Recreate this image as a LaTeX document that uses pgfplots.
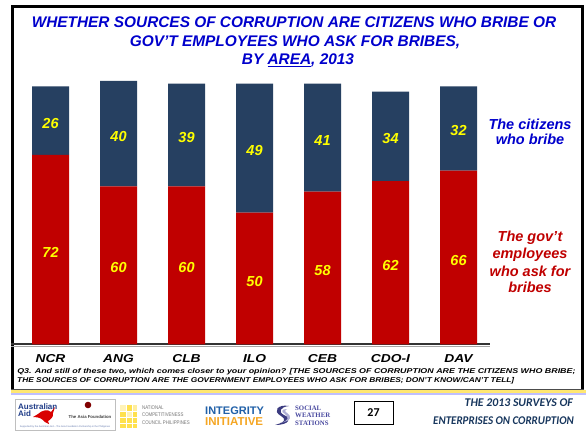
\documentclass[border=0pt]{standalone}
\usepackage{pgfplots}
\pgfplotsset{compat=1.18}
\usepackage{fontspec}
\setmainfont{Liberation Sans}
\newfontfamily\carlito{Carlito}
\newfontfamily\serifx{Liberation Serif}
\definecolor{barred}{HTML}{C00000}
\definecolor{barnavy}{HTML}{264061}
\definecolor{titleblue}{HTML}{0000CC}
\definecolor{footblue}{HTML}{17365D}
\definecolor{labyellow}{HTML}{FFFF00}
\definecolor{ausblue}{HTML}{1F3C88}
\definecolor{intblue}{HTML}{2060A8}
\definecolor{intorange}{HTML}{F5A623}
\definecolor{swsblue}{HTML}{4A4AA0}
\definecolor{nccyellow}{HTML}{FFE14D}
\begin{document}
\begin{tikzpicture}[x=1pt,y=1pt]
\path[use as bounding box, fill=white] (0,0) rectangle (586,431);
% frame
\draw[line width=3pt, black] (12.5,40) -- (12.5,424.5) -- (582,424.5) -- (582,40);
\draw[line width=0.8pt, black!70] (11,42) -- (583.5,42);
\draw[line width=2.5pt, color=nccyellow!80!white] (11,39.5) -- (586,39.5);
\draw[line width=2pt, color=blue!25!white] (11,37) -- (586,37);
% title
\node[anchor=base, text=titleblue, font=\fontsize{15.4}{18}\selectfont\bfseries\itshape] at (294,403.7) {WHETHER SOURCES OF CORRUPTION ARE CITIZENS WHO BRIBE OR};
\node[anchor=base, text=titleblue, font=\fontsize{15.4}{18}\selectfont\bfseries\itshape] at (295,384.3) {GOV’T EMPLOYEES WHO ASK FOR BRIBES,};
\node[anchor=base, text=titleblue, font=\fontsize{15.4}{18}\selectfont\bfseries\itshape] at (298,366) {BY \underline{AREA}, 2013};
% chart
\begin{axis}[at={(11pt,86.5pt)}, anchor=south west, scale only axis,
  width=479pt, height=263.5pt,
  xmin=-0.581, xmax=6.463, ymin=0, ymax=100, clip=false,
  ybar stacked, bar width=37pt,
  axis y line=none, axis x line*=bottom,
  x axis line style={-, line width=2pt, color=black!80},
  xtick={0,...,6}, xticklabels={NCR,ANG,CLB,ILO,CEB,CDO-I,DAV},
  major tick length=0pt, ytick=\empty,
  xticklabel style={font=\fontsize{11.5}{13}\selectfont\bfseries\itshape, anchor=base, yshift=-17.8pt, xscale=1.2},
  /pgf/number format/assume math mode=true,
  nodes near coords, point meta=rawy,
  every node near coord/.style={anchor=center, yshift=-2.5pt, text=labyellow, font=\fontsize{14.5}{16}\selectfont\bfseries\itshape},
]
\addplot[fill=barred, draw=none] coordinates {(0,72)(1,60)(2,60)(3,50)(4,58)(5,62)(6,66)};
\addplot[fill=barnavy, draw=none] coordinates {(0,26)(1,40)(2,39)(3,49)(4,41)(5,34)(6,32)};
\end{axis}
\draw[line width=1.2pt, black!35] (11,84.5) -- (490,84.5);
% legend texts
\begin{scope}[every node/.style={anchor=base, font=\fontsize{14.5}{16}\selectfont\bfseries\itshape}]
\node[text=titleblue] at (530,301.7) {The citizens};
\node[text=titleblue] at (530,286.7) {who bribe};
\node[text=barred] at (530,189.3) {The gov’t};
\node[text=barred] at (530,172) {employees};
\node[text=barred] at (530,154.5) {who ask for};
\node[text=barred] at (530,138) {bribes};
\end{scope}
% footnote
\node[anchor=base west, font=\fontsize{7}{8}\selectfont\bfseries\itshape, xscale=1.27, inner sep=0pt] at (17,57) {Q3. And still of these two, which comes closer to your opinion? [THE SOURCES OF CORRUPTION ARE THE CITIZENS WHO BRIBE;};
\node[anchor=base west, font=\fontsize{7}{8}\selectfont\bfseries\itshape, xscale=1.19, inner sep=0pt] at (17,48.7) {THE SOURCES OF CORRUPTION ARE THE GOVERNMENT EMPLOYEES WHO ASK FOR BRIBES; DON’T KNOW/CAN’T TELL]};
% logos: Australian Aid
\draw[black!25, fill=white] (15,1) rectangle (115,32);
\node[anchor=base west, inner sep=0pt, font=\fontsize{8}{9}\selectfont\bfseries, text=ausblue] at (18,22) {Australian};
\node[anchor=base west, inner sep=0pt, font=\fontsize{8}{9}\selectfont\bfseries, text=ausblue] at (18,14.5) {Aid};
\fill[red!85!black] (38,17) .. controls (42,21) and (48,22) .. (51,19) -- (55,24) -- (53,18) .. controls (54,14) and (50,11) .. (48,10) -- (49,7) -- (45,9) .. controls (42,12) and (40,14) .. (33,14) -- cycle;
\fill[red!50!black] (88,26) circle (3.3);
\node[inner sep=0pt, font=\fontsize{4.3}{5}\selectfont\bfseries, text=black!75] at (90,14) {The Asia Foundation};
\node[inner sep=0pt, font=\fontsize{2.4}{3}\selectfont, text=ausblue!70] at (65,4) {Supported by the Australian Aid -- The Asia Foundation Partnership in the Philippines};
% NCC
\fill[nccyellow] (120,3) rectangle (137,26);
\fill[nccyellow!40!white] (120,20) rectangle (126,26);
\fill[nccyellow!40!white] (126,14) rectangle (132,20);
\fill[nccyellow!55!white] (132,20) rectangle (137,26);
\draw[white, line width=0.4pt] (126,3) -- (126,26) (132,3) -- (132,26) (120,20) -- (137,20) (120,14) -- (137,14) (120,8) -- (137,8);
\begin{scope}[every node/.style={anchor=base west, inner sep=0pt, xscale=0.82, font=\fontsize{5.3}{6}\selectfont, text=black!55}]
\node at (142,22) {NATIONAL};
\node at (142,14.5) {COMPETITIVENESS};
\node at (142,7) {COUNCIL PHILIPPINES};
\end{scope}
% Integrity Initiative
\node[anchor=base west, inner sep=0pt, font=\fontsize{11}{12}\selectfont\bfseries, text=intblue] at (205,17) {INTEGRITY};
\node[anchor=base west, inner sep=0pt, font=\fontsize{11.5}{12}\selectfont\bfseries, text=intorange] at (205,6) {INITIATIVE};
% SWS
\fill[swsblue!80!black] (289,25) .. controls (278,27) and (272,20) .. (281,15) .. controls (286,12) and (286,9) .. (275,6) .. controls (290,6) and (292,13) .. (284,16) .. controls (278,19) and (280,24) .. (289,25) -- cycle;
\fill[swsblue!45!white] (287,22) .. controls (281,22) and (281,19) .. (285,17) .. controls (289,14) and (289,10) .. (280,8) .. controls (292,10) and (292,15) .. (287,18) .. controls (284,20) and (285,21) .. (287,22) -- cycle;
\begin{scope}[every node/.style={anchor=base west, inner sep=0pt, font=\serifx\bfseries\fontsize{6.8}{7}\selectfont, text=swsblue}]
\node at (295,21) {SOCIAL};
\node at (295,13.5) {WEATHER};
\node at (295,6) {STATIONS};
\end{scope}
% page number
\draw[line width=0.8pt] (354,7) rectangle (393,30);
\node[font=\carlito\bfseries\fontsize{12}{14}\selectfont] at (373.5,18.5) {27};
% footer
\node[anchor=base east, inner sep=0pt, text=footblue, font=\carlito\bfseries\itshape\fontsize{11.8}{13}\selectfont] at (573,24.3) {THE 2013 SURVEYS OF};
\node[anchor=base east, inner sep=0pt, text=footblue, font=\carlito\bfseries\itshape\fontsize{11.8}{13}\selectfont, xscale=0.93] at (574,6.7) {ENTERPRISES ON CORRUPTION};
\end{tikzpicture}
\end{document}
